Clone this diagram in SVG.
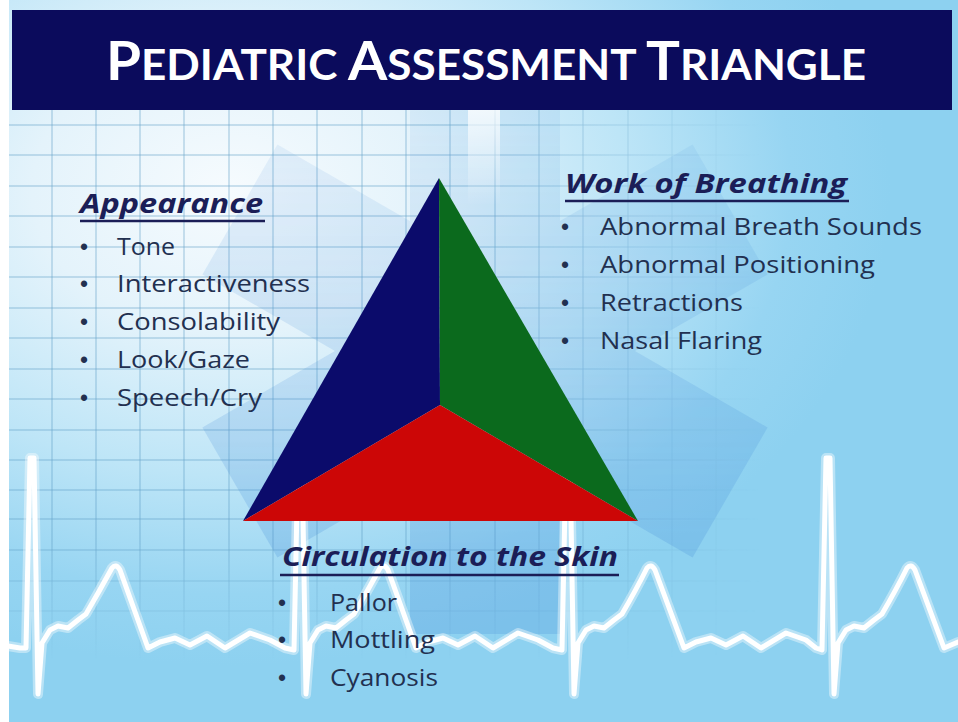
<svg xmlns="http://www.w3.org/2000/svg" width="958" height="722" viewBox="0 0 958 722">
  <defs>
    <radialGradient id="bg" gradientUnits="userSpaceOnUse" cx="230" cy="190" r="660" gradientTransform="translate(230 190) scale(1 0.72) translate(-230 -190)">
      <stop offset="0" stop-color="#f6fbfe"/>
      <stop offset="0.3" stop-color="#e4f3fb"/>
      <stop offset="0.6" stop-color="#bde5f7"/>
      <stop offset="0.85" stop-color="#97d5f2"/>
      <stop offset="1" stop-color="#8dd1f0"/>
    </radialGradient>
    <linearGradient id="fadeX" gradientUnits="userSpaceOnUse" x1="480" y1="0" x2="760" y2="0">
      <stop offset="0" stop-color="#fff"/>
      <stop offset="1" stop-color="#000"/>
    </linearGradient>
    <linearGradient id="fadeY" gradientUnits="userSpaceOnUse" x1="0" y1="540" x2="0" y2="660">
      <stop offset="0" stop-color="#fff"/>
      <stop offset="1" stop-color="#000"/>
    </linearGradient>
    <linearGradient id="starFade" gradientUnits="userSpaceOnUse" x1="0" y1="110" x2="0" y2="560">
      <stop offset="0" stop-color="#fff" stop-opacity="0.35"/>
      <stop offset="1" stop-color="#fff" stop-opacity="1"/>
    </linearGradient>
    <mask id="gridMaskX"><rect x="0" y="0" width="958" height="722" fill="url(#fadeX)"/></mask>
    <mask id="gridMaskY"><rect x="0" y="0" width="958" height="722" fill="url(#fadeY)"/></mask>
    <mask id="starMask"><rect x="0" y="0" width="958" height="722" fill="url(#starFade)"/></mask>
    <linearGradient id="staff" x1="0" y1="0" x2="0" y2="1">
      <stop offset="0" stop-color="#fff" stop-opacity="0.75"/>
      <stop offset="1" stop-color="#fff" stop-opacity="0"/>
    </linearGradient>
    <path id="ecgPath" d="M 8,646 L 20,648 L 26,648 L 30,458 L 34,458 L 38,694 L 42,643 L 50,630 L 58,626 L 68,628 L 78,620 L 86,614 Q 100,590 112,568 Q 116,563 120,570 L 148,648 L 160,642 L 175,638 L 190,645 L 207,636 L 225,648 L 250,633 L 270,640 L 285,648 L 294,650 L 298,458 L 302,458 L 306,694 L 310,643 L 318,630 L 326,626 L 336,628 L 346,620 L 354,614 Q 368,590 380,568 Q 384,563 388,570 L 416,648 L 428,642 L 443,638 L 458,645 L 475,636 L 493,648 L 518,633 L 538,640 L 553,648 L 562,650 L 566,458 L 570,458 L 574,694 L 578,643 L 586,630 L 594,626 L 604,628 L 614,620 L 622,614 Q 636,590 647,568 Q 651,563 655,570 L 684,648 L 696,642 L 711,638 L 726,645 L 743,636 L 761,648 L 786,633 L 806,640 L 816,648 L 822,650 L 826,458 L 830,458 L 834,694 L 838,643 L 846,630 L 854,626 L 864,628 L 874,620 L 882,614 Q 896,590 907,568 Q 911,563 915,570 L 944,648 L 958,642"/>
    <style>
      .hdr { font-family: "Open Sans", "Liberation Sans", sans-serif; font-weight: 700; font-style: italic; font-size: 27px; fill: #1b1e57; }
      .item { font-family: "Open Sans", "Liberation Sans", sans-serif; font-size: 24px; fill: #223050; }
      .bul { font-family: "Liberation Sans", sans-serif; font-size: 23px; fill: #223050; }
      .ul { stroke: #1b1e57; stroke-width: 2.5; }
      .grid line { stroke: #5f9fc8; stroke-opacity: 0.3; stroke-width: 2; }
    </style>
  </defs>

  <!-- background -->
  <rect x="0" y="0" width="958" height="722" fill="url(#bg)"/>
  <rect x="0" y="0" width="9" height="722" fill="#ffffff"/>

  <!-- grid -->
  <g mask="url(#gridMaskY)">
    <g class="grid" mask="url(#gridMaskX)">
      <line x1="52" y1="110" x2="52" y2="722"/>
      <line x1="96" y1="110" x2="96" y2="722"/>
      <line x1="140" y1="110" x2="140" y2="722"/>
      <line x1="184" y1="110" x2="184" y2="722"/>
      <line x1="229" y1="110" x2="229" y2="722"/>
      <line x1="273" y1="110" x2="273" y2="722"/>
      <line x1="317" y1="110" x2="317" y2="722"/>
      <line x1="362" y1="110" x2="362" y2="722"/>
      <line x1="406" y1="110" x2="406" y2="722"/>
      <line x1="450" y1="110" x2="450" y2="722"/>
      <line x1="495" y1="110" x2="495" y2="722"/>
      <line x1="539" y1="110" x2="539" y2="722"/>
      <line x1="583" y1="110" x2="583" y2="722"/>
      <line x1="628" y1="110" x2="628" y2="722"/>
      <line x1="672" y1="110" x2="672" y2="722"/>
      <line x1="716" y1="110" x2="716" y2="722"/>
      <line x1="9" y1="125" x2="958" y2="125"/>
      <line x1="9" y1="155" x2="958" y2="155"/>
      <line x1="9" y1="186" x2="958" y2="186"/>
      <line x1="9" y1="216" x2="958" y2="216"/>
      <line x1="9" y1="247" x2="958" y2="247"/>
      <line x1="9" y1="277" x2="958" y2="277"/>
      <line x1="9" y1="308" x2="958" y2="308"/>
      <line x1="9" y1="338" x2="958" y2="338"/>
      <line x1="9" y1="369" x2="958" y2="369"/>
      <line x1="9" y1="399" x2="958" y2="399"/>
      <line x1="9" y1="430" x2="958" y2="430"/>
      <line x1="9" y1="460" x2="958" y2="460"/>
      <line x1="9" y1="490" x2="958" y2="490"/>
      <line x1="9" y1="519" x2="958" y2="519"/>
      <line x1="9" y1="550" x2="958" y2="550"/>
      <line x1="9" y1="581" x2="958" y2="581"/>
      <line x1="9" y1="611" x2="958" y2="611"/>
    </g>
  </g>

  <!-- star of life (background) -->
  <g mask="url(#starMask)">
    <g id="star-of-life" opacity="0.24" fill="#4a8fda">
      <rect x="410" y="68" width="150" height="566"/>
      <rect x="410" y="68" width="150" height="566" transform="rotate(60 485 351)"/>
      <rect x="410" y="68" width="150" height="566" transform="rotate(-60 485 351)"/>
    </g>
  </g>
  <rect x="468" y="110" width="32" height="95" fill="url(#staff)"/>

  <!-- ECG trace -->
  <g id="ecg" fill="none" stroke="#ffffff" stroke-linejoin="round" stroke-linecap="round">
    <use href="#ecgPath" stroke-opacity="0.4" stroke-width="10"/>
    <use href="#ecgPath" stroke-width="5"/>
  </g>

  <!-- title bar -->
  <g id="title">
    <rect x="12" y="10" width="940" height="100" fill="#0b0b5c"/>
    <text x="106" y="80" textLength="760" lengthAdjust="spacingAndGlyphs" font-family="Lato, 'Open Sans', 'Liberation Sans', sans-serif" font-weight="700" fill="#ffffff"><tspan font-size="54">P</tspan><tspan font-size="42">EDIATRIC </tspan><tspan font-size="54">A</tspan><tspan font-size="42">SSESSMENT </tspan><tspan font-size="54">T</tspan><tspan font-size="42">RIANGLE</tspan></text>
  </g>

  <!-- triangle -->
  <g id="triangle">
    <polygon points="439,178 440,405 243,521" fill="#0b0b6b"/>
    <polygon points="439,178 638,521 440,405" fill="#0b6a1d"/>
    <polygon points="243,521 440,405 638,521" fill="#cc0606"/>
  </g>

  <!-- Appearance -->
  <g id="appearance">
    <text class="hdr" x="80" y="213" textLength="183" lengthAdjust="spacingAndGlyphs">Appearance</text>
    <line class="ul" x1="80" y1="221" x2="265" y2="221"/>
    <text class="bul" x="80" y="255">•</text>
    <text class="item" x="117" y="255" textLength="58" lengthAdjust="spacingAndGlyphs">Tone</text>
    <text class="bul" x="80" y="292">•</text>
    <text class="item" x="117" y="292" textLength="193" lengthAdjust="spacingAndGlyphs">Interactiveness</text>
    <text class="bul" x="80" y="330">•</text>
    <text class="item" x="117" y="330" textLength="163" lengthAdjust="spacingAndGlyphs">Consolability</text>
    <text class="bul" x="80" y="368">•</text>
    <text class="item" x="117" y="368" textLength="133" lengthAdjust="spacingAndGlyphs">Look/Gaze</text>
    <text class="bul" x="80" y="406">•</text>
    <text class="item" x="117" y="406" textLength="145" lengthAdjust="spacingAndGlyphs">Speech/Cry</text>
  </g>

  <!-- Work of Breathing -->
  <g id="work-of-breathing">
    <text class="hdr" x="565" y="193" textLength="282" lengthAdjust="spacingAndGlyphs">Work of Breathing</text>
    <line class="ul" x1="565" y1="201" x2="849" y2="201"/>
    <text class="bul" x="561" y="235">•</text>
    <text class="item" x="600" y="235" textLength="322" lengthAdjust="spacingAndGlyphs">Abnormal Breath Sounds</text>
    <text class="bul" x="561" y="273">•</text>
    <text class="item" x="600" y="273" textLength="275" lengthAdjust="spacingAndGlyphs">Abnormal Positioning</text>
    <text class="bul" x="561" y="311">•</text>
    <text class="item" x="600" y="311" textLength="143" lengthAdjust="spacingAndGlyphs">Retractions</text>
    <text class="bul" x="561" y="349">•</text>
    <text class="item" x="600" y="349" textLength="162" lengthAdjust="spacingAndGlyphs">Nasal Flaring</text>
  </g>

  <!-- Circulation to the Skin -->
  <g id="circulation">
    <text class="hdr" x="282" y="566" textLength="336" lengthAdjust="spacingAndGlyphs">Circulation to the Skin</text>
    <line class="ul" x1="280" y1="575" x2="619" y2="575"/>
    <text class="bul" x="278" y="611">•</text>
    <text class="item" x="330" y="611" textLength="67" lengthAdjust="spacingAndGlyphs">Pallor</text>
    <text class="bul" x="278" y="648">•</text>
    <text class="item" x="330" y="648" textLength="105" lengthAdjust="spacingAndGlyphs">Mottling</text>
    <text class="bul" x="278" y="686">•</text>
    <text class="item" x="330" y="686" textLength="108" lengthAdjust="spacingAndGlyphs">Cyanosis</text>
  </g>
</svg>
